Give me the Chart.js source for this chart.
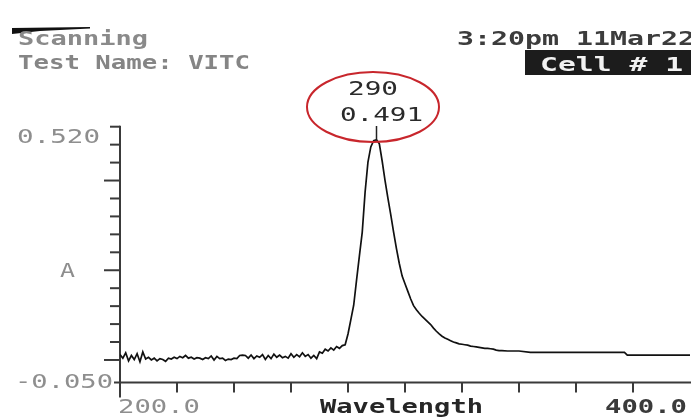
<!DOCTYPE html>
<html>
<head>
<meta charset="utf-8">
<script src="https://cdn.jsdelivr.net/npm/chart.js@4/dist/chart.umd.min.js"></script>
<style>
  html, body { margin: 0; padding: 0; background: #fff; }
  #wrap { width: 691px; height: 418px; position: relative; }
</style>
</head>
<body>
<div id="wrap"><canvas id="c" width="691" height="418"></canvas></div>
<script>
// ---- data ----
const wavelengths = [
  200,201,202,203,204,205,206,207,208,209,210,211,212,213,214,215,216,217,218,219,
  220,221,222,223,224,225,226,227,228,229,230,231,232,233,234,235,236,237,238,239,
  240,241,242,243,244,245,246,247,248,249,250,251,252,253,254,255,256,257,258,259,
  260,261,262,263,264,265,266,267,268,269,270,271,272,273,274,275,276,277,278,279,
  280,281,282,283,284,285,286,287,288,289,290,291,292,293,294,295,296,297,298,299,
  300,301,302,303,304,305,306,307,308,309,310,311,312,313,314,315,316,317,318,319,
  320,321,322,323,324,325,326,327,328,329,330,331,332,333,334,336,340,344,350,360,
  370,377,378,385,390,400
];
const absorbance = [
  0.012,0.004,0.016,-0.002,0.010,0.001,0.014,-0.004,0.018,0.002,0.006,0.000,0.004,-0.002,0.003,0.001,-0.003,0.004,0.002,0.006,
  0.003,0.008,0.005,0.010,0.004,0.006,0.002,0.005,0.004,0.001,0.005,0.003,0.009,0.000,0.008,0.003,0.004,-0.001,0.002,0.001,
  0.004,0.003,0.010,0.011,0.010,0.004,0.011,0.003,0.009,0.006,0.012,0.001,0.010,0.003,0.013,0.006,0.011,0.005,0.008,0.004,
  0.014,0.006,0.012,0.007,0.016,0.008,0.012,0.004,0.010,0.003,0.018,0.015,0.024,0.020,0.027,0.022,0.030,0.026,0.032,0.034,
  0.058,0.090,0.122,0.178,0.232,0.285,0.374,0.441,0.475,0.489,0.491,0.482,0.443,0.400,0.361,0.324,0.285,0.248,0.215,0.187,
  0.170,0.153,0.136,0.121,0.112,0.104,0.097,0.091,0.085,0.079,0.071,0.064,0.058,0.053,0.049,0.046,0.043,0.040,0.038,0.036,
  0.035,0.034,0.033,0.031,0.030,0.029,0.028,0.027,0.026,0.026,0.025,0.024,0.022,0.021,0.021,0.020,0.020,0.017,0.017,0.017,
  0.017,0.017,0.011,0.011,0.011,0.011
];
const yTickValues = [0.00,0.04,0.08,0.12,0.16,0.20,0.24,0.28,0.32,0.36,0.40,0.44,0.48,0.52];
const yMajorTicks = [0.00,0.20,0.40];
const xTickValues = [220,240,260,280,300,320,340,360,380];
const yMin = -0.050, yMax = 0.520, xMin = 200, xMax = 400;
const peakWavelength = 290, peakValue = 0.491;
const yLabels = ["0.520", "-0.050"];
const xLabels = ["200.0", "400.0"];
const headerLines = ["Scanning", "Test Name: VITC"];
const dateText = "3:20pm 11Mar22";
const cellText = "Cell # 1";
const axisTitleX = "Wavelength";
const axisTitleY = "A";

const FONT = '"DejaVu Sans Mono", "Liberation Mono", monospace';
function txt(ctx, s, left, right, base, color, bold, size) {
  ctx.save();
  ctx.font = (bold ? 'bold ' : '') + (size || 20) + 'px ' + FONT;
  ctx.fillStyle = color;
  ctx.textBaseline = 'alphabetic';
  ctx.textAlign = 'left';
  const w = ctx.measureText(s).width;
  const sx = (right - left) / w;
  ctx.translate(left, base);
  ctx.scale(sx, 1);
  ctx.fillText(s, 0, 0);
  ctx.restore();
}

const decor = {
  id: 'decor',
  beforeDatasetsDraw(chart) {
    const ctx = chart.ctx;
    const xs = chart.scales.x, ys = chart.scales.y;
    const x0 = xs.getPixelForValue(xMin);
    const yTop = ys.getPixelForValue(yMax);
    const yBot = ys.getPixelForValue(yMin);
    ctx.save();
    ctx.strokeStyle = '#3a3a3a';
    ctx.lineWidth = 2;
    ctx.beginPath();
    ctx.moveTo(x0, yTop - 1);
    ctx.lineTo(x0, yBot + 15);
    ctx.stroke();
    ctx.beginPath();
    ctx.moveTo(x0 - 6, yBot);
    ctx.lineTo(chart.width, yBot);
    ctx.stroke();
    yTickValues.forEach(v => {
      const y = ys.getPixelForValue(v);
      const len = yMajorTicks.includes(v) ? 16 : 10;
      ctx.beginPath();
      ctx.moveTo(x0 - len, y);
      ctx.lineTo(x0, y);
      ctx.stroke();
    });
    xTickValues.forEach(v => {
      const x = xs.getPixelForValue(v);
      ctx.beginPath();
      ctx.moveTo(x, yBot);
      ctx.lineTo(x, yBot + 10);
      ctx.stroke();
    });
    ctx.restore();
  },
  afterDatasetsDraw(chart) {
    const ctx = chart.ctx;
    const xs = chart.scales.x, ys = chart.scales.y;
    ctx.save();
    ctx.fillStyle = '#111';
    ctx.beginPath();
    ctx.moveTo(12, 28); ctx.lineTo(90, 27); ctx.lineTo(90, 28.5); ctx.lineTo(40, 31); ctx.lineTo(12, 34);
    ctx.closePath(); ctx.fill();
    ctx.restore();

    txt(ctx, headerLines[0], 18, 148, 45, '#8a8a8a', true, 20);
    txt(ctx, headerLines[1], 18, 250, 69, '#858585', true, 20);
    txt(ctx, dateText, 457, 695, 45, '#3c3c3c', true, 20);
    ctx.save();
    ctx.fillStyle = '#1c1c1c';
    ctx.fillRect(525, 50, 166, 25);
    ctx.restore();
    txt(ctx, cellText, 540, 683, 71, '#f2f2f2', true, 20);

    const px = xs.getPixelForValue(peakWavelength);
    const py = ys.getPixelForValue(peakValue);
    ctx.save();
    ctx.strokeStyle = '#222';
    ctx.lineWidth = 1.5;
    ctx.beginPath(); ctx.moveTo(px, py); ctx.lineTo(px, 126); ctx.stroke();
    ctx.strokeStyle = '#c8262c';
    ctx.lineWidth = 2;
    ctx.beginPath();
    ctx.ellipse(373, 107, 66, 35, 0, 0, Math.PI * 2);
    ctx.stroke();
    ctx.restore();
    txt(ctx, String(peakWavelength), 348, 398, 95, '#2a2a2a', false, 20);
    txt(ctx, peakValue.toFixed(3), 340, 423, 121, '#2a2a2a', false, 20);

    txt(ctx, yLabels[0], 17, 100, 143, '#8e8e8e', false, 20);
    txt(ctx, axisTitleY, 60, 75, 277, '#8e8e8e', false, 20);
    txt(ctx, yLabels[1], 15, 113, 388, '#8e8e8e', false, 20);
    txt(ctx, xLabels[0], 118, 200, 413, '#8e8e8e', false, 20);
    txt(ctx, axisTitleX, 320, 483, 413, '#262626', true, 20);
    txt(ctx, xLabels[1], 605, 687, 413, '#3a3a3a', true, 20);
  }
};

new Chart(document.getElementById('c'), {
  type: 'line',
  data: {
    datasets: [{
      data: wavelengths.map((w, i) => ({ x: w, y: absorbance[i] })),
      borderColor: '#111',
      borderWidth: 1.7,
      pointRadius: 0,
      tension: 0,
      fill: false
    }]
  },
  options: {
    responsive: false,
    devicePixelRatio: 1,
    animation: false,
    layout: { padding: { left: 120, right: 1, top: 126.7, bottom: 35.6 } },
    plugins: { legend: { display: false }, tooltip: { enabled: false } },
    scales: {
      x: { type: 'linear', min: xMin, max: xMax, display: false },
      y: { type: 'linear', min: yMin, max: yMax, display: false }
    }
  },
  plugins: [decor]
});
</script>
</body>
</html>
